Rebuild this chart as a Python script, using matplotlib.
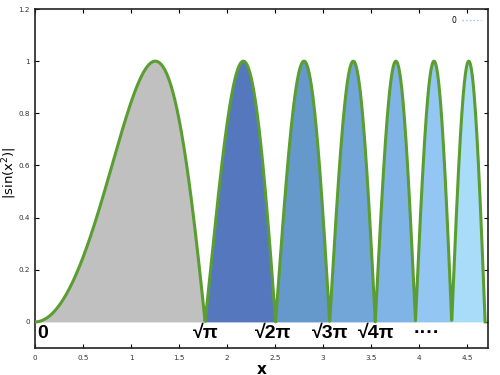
import numpy as np
import matplotlib
matplotlib.use("Agg")
import matplotlib.pyplot as plt
from matplotlib.ticker import FuncFormatter

# segment boundaries: sqrt(k*pi), k = 0..7
k_values = [0, 1, 2, 3, 4, 5, 6, 7]
seg_colors = ["#c0c0c0", "#5577bd", "#6598cb", "#72a6d8", "#80b4e6", "#93c6f2", "#a9dcf8"]
marker_labels = ["0", "√π", "√2π", "√3π", "√4π", "····"]
marker_x = [0.02, 1.65, 2.29, 2.89, 3.37, 3.94]
x_ticks = [0, 0.5, 1, 1.5, 2, 2.5, 3, 3.5, 4, 4.5]
y_ticks = [0, 0.2, 0.4, 0.6, 0.8, 1.0, 1.2]

bounds = np.sqrt(np.array(k_values) * np.pi)

fig = plt.figure(figsize=(5, 3.75), dpi=100)
ax = fig.add_axes([0.07, 0.072, 0.906, 0.904])

for i in range(len(bounds) - 1):
    xs = np.linspace(bounds[i], bounds[i + 1], 300)
    ys = np.abs(np.sin(xs ** 2))
    ax.fill_between(xs, 0, ys, color=seg_colors[i], linewidth=0)

xs = np.linspace(0, bounds[-1], 3000)
ax.plot(xs, np.abs(np.sin(xs ** 2)), color="#5a9e32", linewidth=2.2, zorder=3)
ax.plot([], [], linestyle=":", color="#8cc8d8", linewidth=1, label="0")

for lab, xv in zip(marker_labels, marker_x):
    ax.text(xv, -0.045, lab, fontsize=14, fontweight="bold", ha="left", va="center",
            family=["Liberation Sans", "DejaVu Sans"])

ax.set_xlim(0, bounds[-1] + 0.03)
ax.set_ylim(-0.1, 1.2)
ax.set_xticks(x_ticks)
ax.set_yticks(y_ticks)
fmt = FuncFormatter(lambda v, p: "%g" % v)
ax.xaxis.set_major_formatter(fmt)
ax.yaxis.set_major_formatter(fmt)
ax.tick_params(direction="in", top=True, right=True, labelsize=5.2, length=3, width=0.8, pad=5, labelcolor="#333333")
ax.tick_params(axis="y", pad=3.5)
for s in ax.spines.values():
    s.set_linewidth(1.2)
    s.set_color("#222222")

ax.set_xlabel("x", fontsize=11, fontweight="bold")
ax.xaxis.set_label_coords(0.5, -0.062)
ax.xaxis.label.set_va("center")
ax.set_ylabel("|sin(x$^2$)|", fontsize=9.5)
ax.yaxis.set_label_coords(-0.035, 0.516)

leg = ax.legend(loc="upper right", frameon=False, fontsize=5.5, handlelength=2.5,
                borderaxespad=0.5, markerfirst=False)

fig.savefig("out.png", dpi=100)
